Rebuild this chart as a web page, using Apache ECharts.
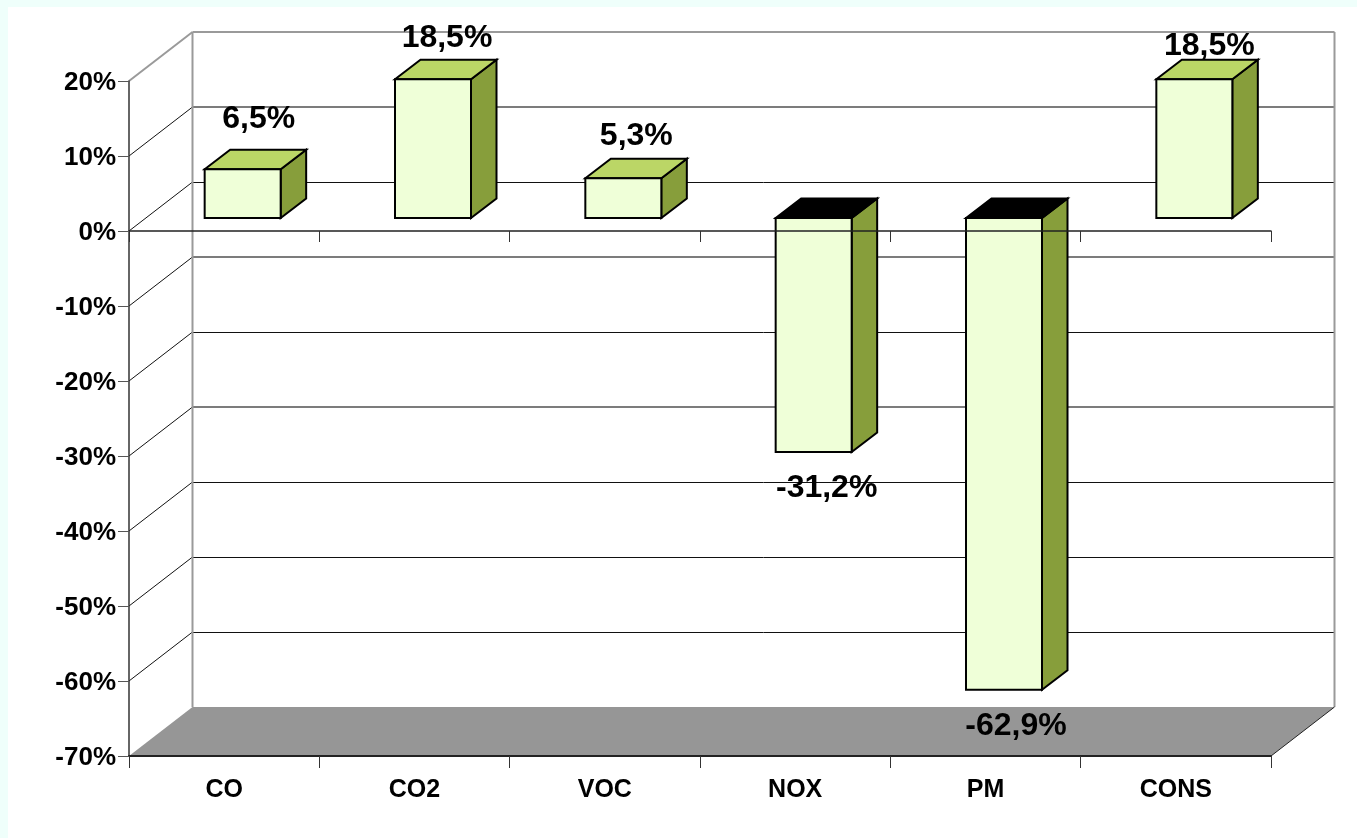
<!DOCTYPE html>
<html><head><meta charset="utf-8">
<script src="https://cdn.jsdelivr.net/npm/echarts@6/dist/echarts.min.js"></script>
<style>
html,body{margin:0;height:100%;background:#EFFFFB;overflow:hidden}
#paper{position:absolute;left:8px;top:7px;right:0;bottom:0;background:#fff}
#c{position:absolute;left:0;top:0;width:1357px;height:838px}
</style></head><body>
<div id="paper"></div><div id="c"></div>
<script>
const categories = ['CO','CO2','VOC','NOX','PM','CONS'];
const changes = [6.5,18.5,5.3,-31.2,-62.9,18.5];
const yTicks = [20,10,0,-10,-20,-30,-40,-50,-60,-70];
const softGridValues = [10,-10,-30];
const labelNudge = [[2,-9],[0,0],[-1,-1],[-1,0],[-2,0],[1,8]];

const FONT = '"Liberation Sans", Arial, sans-serif';
const WALL = [63.5,-49], LIFT = [18.5,-13], DEPTH = [25.5,-19.5];
const FRONT='#EFFFD8', TOP='#BBD666', SIDE='#879E3B', WALLC='#9A9A9A';
const bw = 76;
const thin = y => Math.round(y)+0.5;
const poly=(pts,fill,stroke,lw)=>({type:'polygon',shape:{points:pts},style:{fill,stroke:stroke||null,lineWidth:lw||0,lineJoin:'miter'}});
const line=(a,b,stroke,lw)=>({type:'line',shape:{x1:a[0],y1:a[1],x2:b[0],y2:b[1]},style:{stroke,lineWidth:lw}});

function renderWall(params,api){
  const v=api.value(0), cs=params.coordSys;
  const y=api.coord([0,v])[1], x0=cs.x, bx=x0+WALL[0], ex=x0+cs.width+WALL[0];
  const by=y+WALL[1], kids=[];
  if(v===-70){
    kids.push(line([bx,cs.y+WALL[1]],[bx,by],WALLC,2));
    kids.push(line([ex,cs.y+WALL[1]],[ex,by],WALLC,2));
    return {type:'group',children:kids};
  }
  if(v===20){
    kids.push(line([x0,y],[bx,by],WALLC,2));
    kids.push(line([bx,by],[ex,by],WALLC,2));
  } else {
    kids.push(line([x0,y],[bx,by],'#111',1));
    if(softGridValues.includes(v)) kids.push(line([bx,Math.round(by)],[ex,Math.round(by)],'#7c7c7c',2));
    else kids.push(line([bx,thin(by)],[ex,thin(by)],'#111',1));
  }
  return {type:'group',children:kids};
}
function renderFloor(params,api){
  const cs=params.coordSys, y=api.coord([0,api.value(0)])[1];
  const a=[cs.x,y], b=[cs.x+cs.width,y], c=[b[0]+WALL[0],y+WALL[1]], d=[a[0]+WALL[0],y+WALL[1]];
  return {type:'group',children:[poly([a,b,c,d],'#969696'),line(b,c,'#222',1)]};
}
function renderBar(params,api){
  const i=params.dataIndex, v=api.value(1);
  const cx=api.coord([i,0])[0]+LIFT[0];
  const y0=api.coord([i,0])[1]+LIFT[1], yv=api.coord([i,v])[1]+LIFT[1];
  const t=Math.min(y0,yv), b=Math.max(y0,yv), l=cx-bw/2, r=cx+bw/2, dx=DEPTH[0], dy=DEPTH[1];
  const topFill = v<0 ? '#000' : TOP;
  const kids=[
    poly([[r,t],[r+dx,t+dy],[r+dx,b+dy],[r,b]],SIDE,'#000',2),
    poly([[l,t],[l+dx,t+dy],[r+dx,t+dy],[r,t]],topFill,'#000',2),
    poly([[l,t],[r,t],[r,b],[l,b]],FRONT,'#000',2)
  ];
  const n=labelNudge[i];
  const ly = v<0 ? b+36 : t+dy-22;
  kids.push({type:'text',z2:10,style:{text:v.toFixed(1).replace('.',',')+'%',x:cx+14+n[0],y:ly+n[1],
    align:'center',verticalAlign:'middle',font:'bold 32px '+FONT,fill:'#000'}});
  return {type:'group',children:kids};
}
const chart=echarts.init(document.getElementById('c'),null,{renderer:'canvas'});
const catBase={type:'category',data:categories,boundaryGap:true};
chart.setOption({
  animation:false,
  backgroundColor:'transparent',
  grid:{left:129,right:86,top:81,bottom:82},
  xAxis:[
    Object.assign({},catBase,{position:'bottom',z:6,axisLine:{onZero:false,lineStyle:{color:'#222',width:2}},
      axisTick:{show:true,length:12,lineStyle:{color:'#333',width:1}},
      axisLabel:{interval:0,margin:22,fontFamily:FONT,fontWeight:'bold',fontSize:25,color:'#000'}}),
    Object.assign({},catBase,{position:'bottom',z:6,axisLine:{onZero:true,lineStyle:{color:'#222',width:1.5}},
      axisTick:{show:true,length:11,lineStyle:{color:'#333',width:1}},axisLabel:{show:false}})
  ],
  yAxis:{type:'value',min:-70,max:20,interval:10,z:6,
    axisLine:{show:true,onZero:false,lineStyle:{color:'#333',width:1.5}},
    axisTick:{show:true,length:11,lineStyle:{color:'#555',width:1}},
    splitLine:{show:false},
    axisLabel:{margin:13,formatter:'{t|{value}%}',
      rich:{t:{padding:[4,0,0,0],fontFamily:FONT,fontWeight:'bold',fontSize:26,color:'#000'}}}},
  series:[
    {type:'custom',z:1,silent:true,coordinateSystem:'cartesian2d',data:yTicks.map(v=>[v]),encode:{x:[],y:0},renderItem:renderWall},
    {type:'custom',z:1,silent:true,coordinateSystem:'cartesian2d',data:[[-70]],encode:{x:[],y:0},renderItem:renderFloor},
    {type:'custom',z:2,silent:true,coordinateSystem:'cartesian2d',data:changes.map((v,i)=>[i,v]),encode:{x:0,y:1},renderItem:renderBar}
  ]
});
</script></body></html>
